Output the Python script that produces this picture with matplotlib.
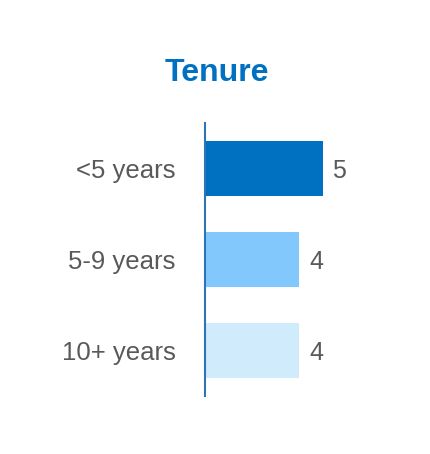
import matplotlib
matplotlib.use("Agg")
import matplotlib.pyplot as plt

categories = ["<5 years", "5-9 years", "10+ years"]
values = [5, 4, 4]
colors = ["#0070c0", "#83c8fc", "#d0ecfc"]

plt.rcParams['font.family'] = ['Liberation Sans', 'DejaVu Sans']

fig = plt.figure(figsize=(4.3, 4.54), dpi=100)
ax = fig.add_axes([205 / 430, 58 / 454, 195 / 430, 273 / 454])

ypos = list(range(len(categories)))
ax.barh(ypos, values, height=0.6, color=colors)
ax.set_xlim(0, 195 / 23.5)
ax.set_ylim(2.5, -0.5)

# value labels right of the bars, category labels left of the axis line
for y, v, name in zip(ypos, values, categories):
    ax.annotate(str(v), xy=(v, y), xytext=(7.2, -6.6), textcoords="offset points",
                va="baseline", ha="left", fontsize=18, color="#595959")
    ax.annotate(name, xy=(0, y), xytext=(-21.2, -6.7), textcoords="offset points",
                va="baseline", ha="right", fontsize=18.5, color="#595959")

ax.set_yticks([])
ax.set_xticks([])
for side in ["top", "right", "bottom"]:
    ax.spines[side].set_visible(False)
ax.spines["left"].set_color("#2e75b6")
ax.spines["left"].set_linewidth(1.5)

fig.text(216.5 / 430, 1 - 73 / 454, "Tenure", ha="center", va="center",
         fontsize=23, fontweight="bold", color="#0070c0")

fig.savefig("out.png", dpi=100)
